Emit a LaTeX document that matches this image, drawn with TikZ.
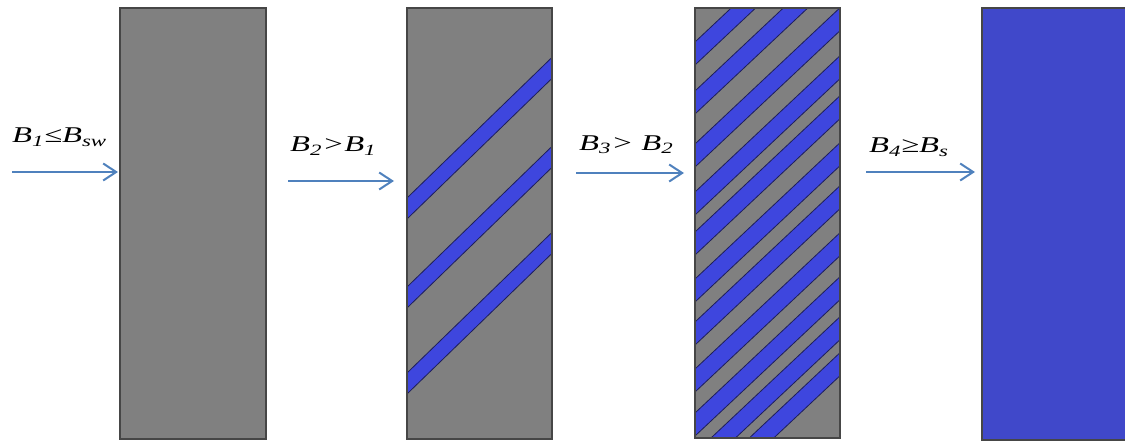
\documentclass[tikz,border=0pt]{standalone}
\usepackage{fontspec}
\setmainfont{Liberation Serif}
\usetikzlibrary{arrows.meta}
\definecolor{boxgray}{RGB}{128,128,128}
\definecolor{stripeblue}{RGB}{62,70,222}
\definecolor{fullblue}{RGB}{64,72,202}
\definecolor{arrowblue}{RGB}{79,129,189}
\definecolor{edgegray}{RGB}{70,70,70}
\definecolor{stripeedge}{RGB}{30,30,90}
\tikzset{
  sample/.style={fill=boxgray},
  sampleedge/.style={draw=edgegray, line width=1.2pt},
  stripe/.style={fill=stripeblue, draw=stripeedge, line width=0.8pt},
  fieldarrow/.style={draw=arrowblue, line width=2pt,
    -{Straight Barb[length=13pt,width=17pt,line width=2pt]}},
  fieldlabel/.style={font=\fontsize{22.5}{26}\selectfont\itshape, inner sep=0pt, anchor=base west}
}
\newcommand\widetext[1]{\scalebox{1.45}[1]{#1}}
\begin{document}
\begin{tikzpicture}[x=1pt,y=-1pt]
\useasboundingbox (0,0) rectangle (1125,441);
% sample 1
\fill[sample] (120,8) rectangle (266,439);
\draw[sampleedge] (120,8) rectangle (266,439);
% sample 2
\fill[sample] (407,8) rectangle (552,439);
\begin{scope}
  \clip (407,8) rectangle (552,439);
  \foreach \yl in {198,287,373}{
    \filldraw[stripe] (400,{\yl+6.79}) -- (560,{\yl-148.4}) -- (560,{\yl-148.4+21}) -- (400,{\yl+6.79+21}) -- cycle;
  }
\end{scope}
\draw[sampleedge] (407,8) rectangle (552,439);
% sample 3
\fill[sample] (695,8) rectangle (840,438);
\begin{scope}
  \clip (695,8) rectangle (840,438);
  \foreach \yl in {42,91,144,192,232,279,322,369,413,453,489}{
    \filldraw[stripe] (688,{\yl+6.58}) -- (848,{\yl-143.8}) -- (848,{\yl-143.8+23}) -- (688,{\yl+6.58+23}) -- cycle;
  }
\end{scope}
\draw[sampleedge] (695,8) rectangle (840,438);
% sample 4
\fill[fullblue] (982,8) rectangle (1126,440);
\draw[sampleedge] (1126,8) -- (982,8) -- (982,440) -- (1126,440);
% arrows
\coordinate (a1s) at (12,172);  \coordinate (a1e) at (118,172);
\coordinate (a2s) at (288,181); \coordinate (a2e) at (394,181);
\coordinate (a3s) at (576,173); \coordinate (a3e) at (684,173);
\coordinate (a4s) at (866,172); \coordinate (a4e) at (975,172);
\draw[fieldarrow] (a1s) -- (a1e);
\draw[fieldarrow] (a2s) -- (a2e);
\draw[fieldarrow] (a3s) -- (a3e);
\draw[fieldarrow] (a4s) -- (a4e);
% labels
\node[fieldlabel] (l1) at (12,143) {\widetext{B\textsubscript{1}≤B\textsubscript{sw}}};
\node[fieldlabel] (l2) at (290,152) {\widetext{B\textsubscript{2}>B\textsubscript{1}}};
\node[fieldlabel] (l3) at (579,150) {\widetext{B\textsubscript{3}> B\textsubscript{2}}};
\node[fieldlabel] (l4) at (869,153) {\widetext{B\textsubscript{4}≥B\textsubscript{s}}};
\end{tikzpicture}
\end{document}
